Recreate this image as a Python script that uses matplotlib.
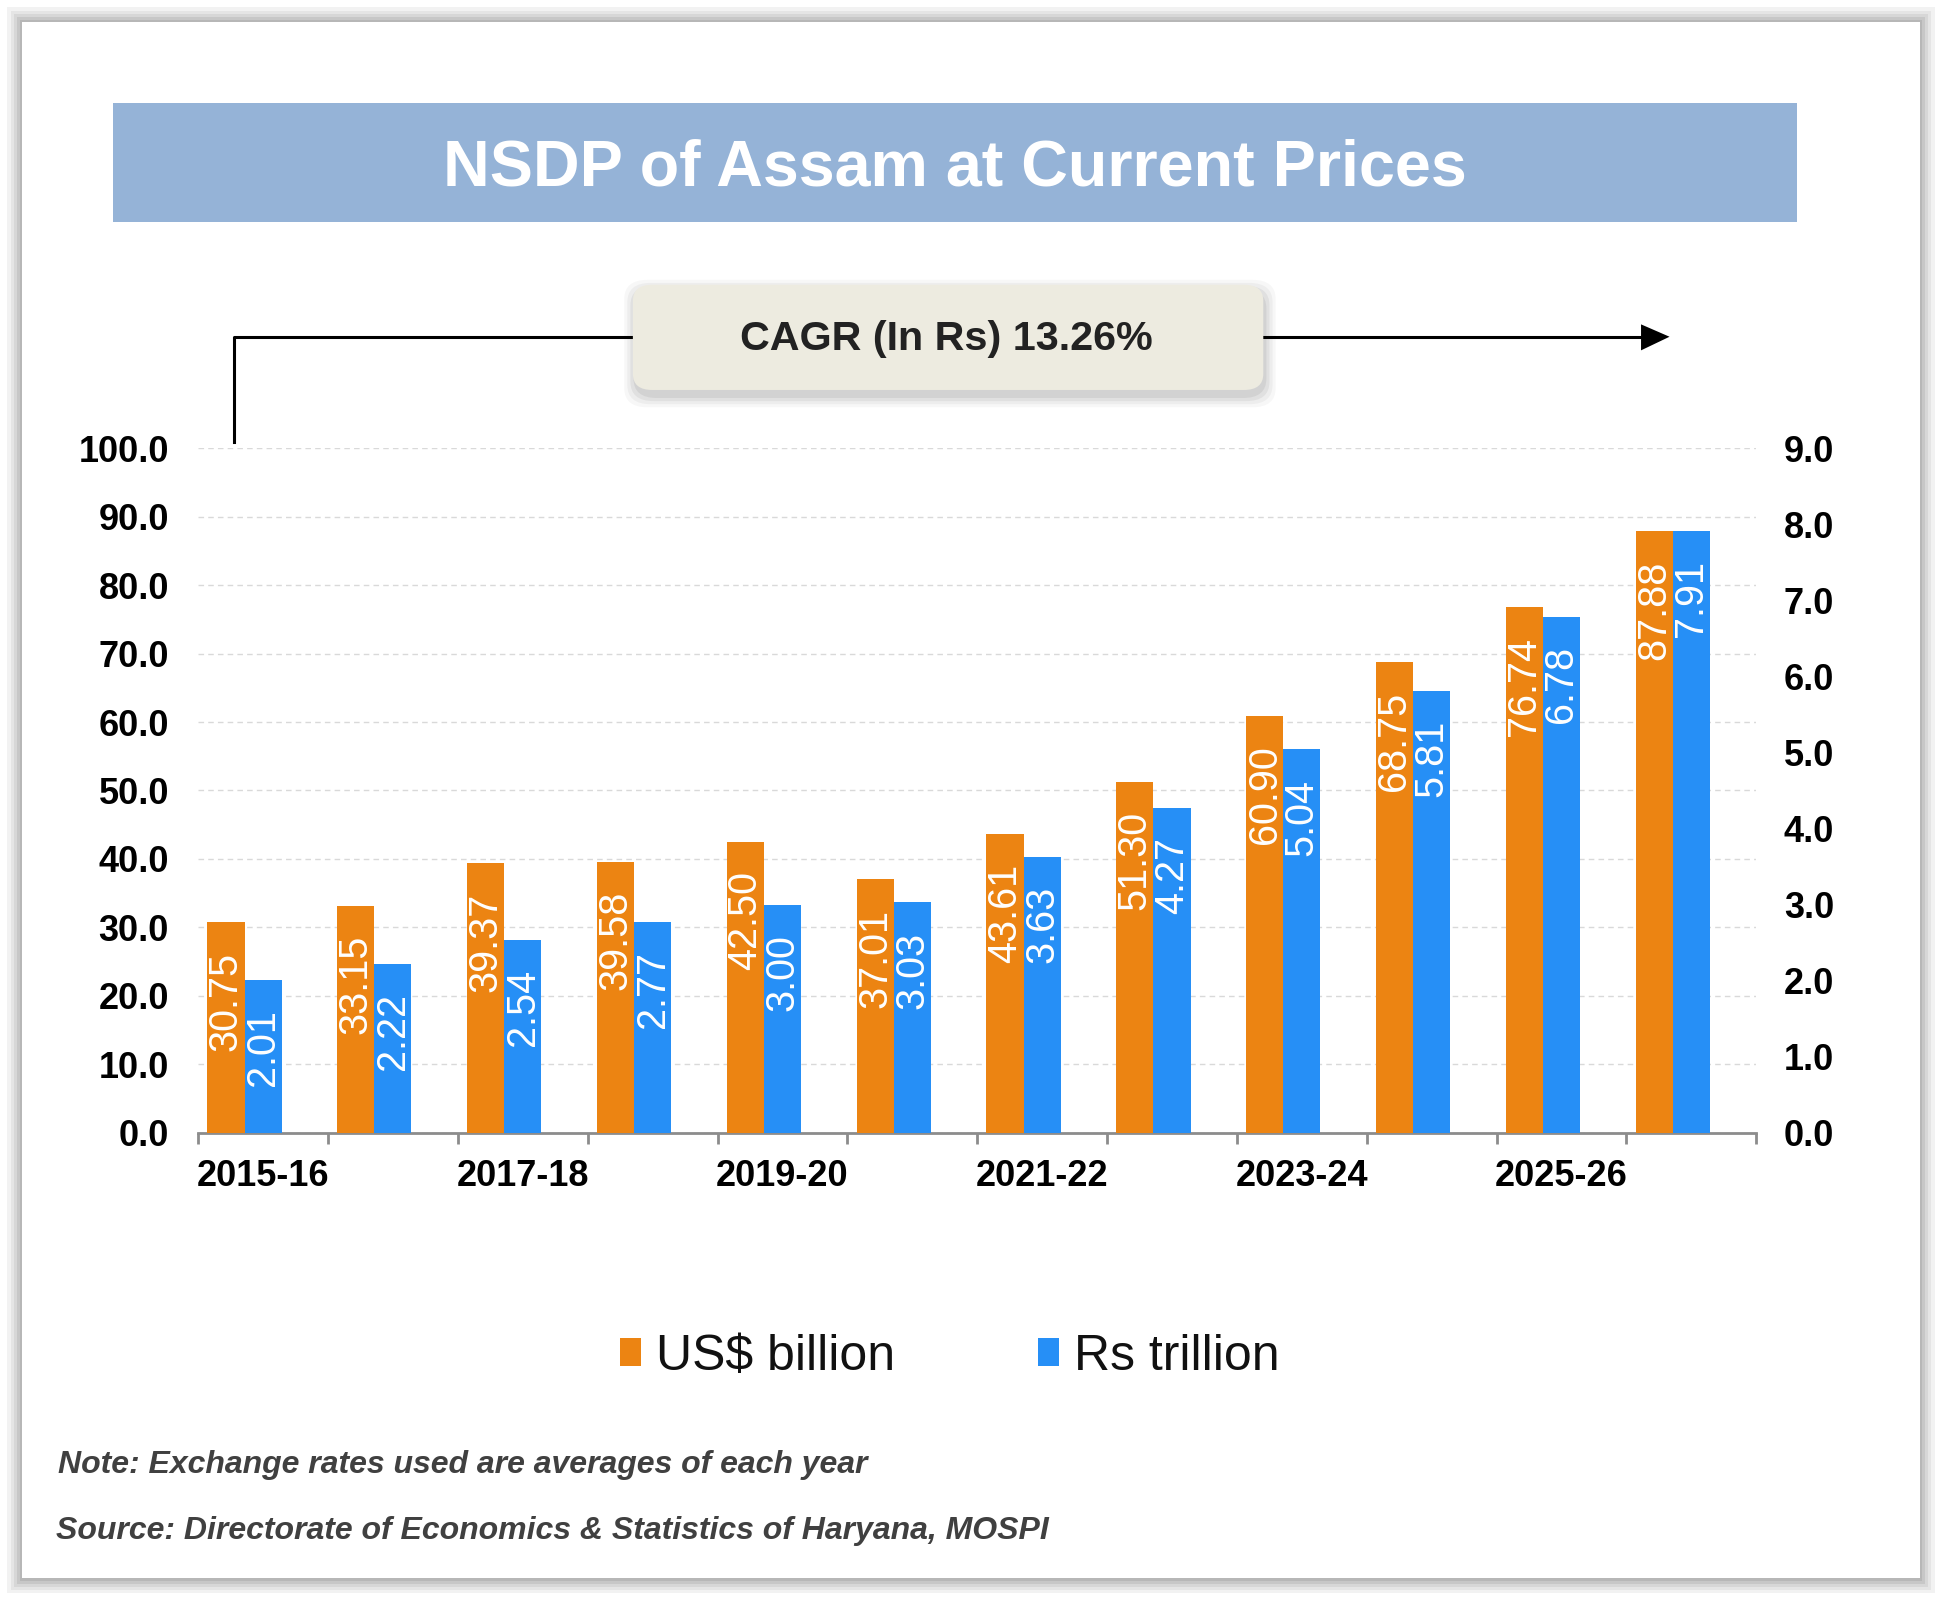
import matplotlib
matplotlib.use("Agg")
import matplotlib.pyplot as plt
from matplotlib.patches import Rectangle, FancyBboxPatch, Polygon
from matplotlib.lines import Line2D
from matplotlib.ticker import FormatStrFormatter, FixedLocator

plt.rcParams['font.family'] = ['Liberation Sans', 'DejaVu Sans']

# ---------------- data ----------------
years = ['2015-16', '2016-17', '2017-18', '2018-19', '2019-20', '2020-21',
         '2021-22', '2022-23', '2023-24', '2024-25', '2025-26', '2026-27']
usd_billion = [30.75, 33.15, 39.37, 39.58, 42.50, 37.01, 43.61, 51.30, 60.90, 68.75, 76.74, 87.88]
rs_trillion = [2.01, 2.22, 2.54, 2.77, 3.00, 3.03, 3.63, 4.27, 5.04, 5.81, 6.78, 7.91]
left_ticks = [0, 10, 20, 30, 40, 50, 60, 70, 80, 90, 100]
right_ticks = [0, 1, 2, 3, 4, 5, 6, 7, 8, 9]
title = "NSDP of Assam at Current Prices"
cagr_text = "CAGR (In Rs) 13.26%"
note_text = "Note: Exchange rates used are averages of each year"
source_text = "Source: Directorate of Economics & Statistics of Haryana, MOSPI"

ORANGE = '#EC8412'
BLUE = '#268FF6'

# reference layout coordinates (measured on a 1568x1294 view)
W, H = 1568.0, 1294.0
def fx(x): return x / W
def fy(y): return 1 - y / H

fig = plt.figure(figsize=(19.42, 16.02), dpi=100, facecolor='white')

# card shadow + card
for i, a in enumerate([0.05, 0.05, 0.06, 0.07, 0.08]):
    p = 12 - i * 2.5
    fig.patches.append(Rectangle((fx(18 - p), fy(1275 + p)), fx(1532 + 2 * p), (1257 + 2 * p) / H,
                                 transform=fig.transFigure, facecolor='#000000', alpha=a,
                                 edgecolor='none', zorder=0))
fig.patches.append(Rectangle((fx(18), fy(1275)), fx(1532), 1257 / H, transform=fig.transFigure,
                             facecolor='white', edgecolor='none', zorder=1))

# title box
fig.patches.append(Rectangle((fx(91), fy(179)), fx(1360), 96 / H, transform=fig.transFigure,
                             facecolor='#95B3D7', edgecolor='none', zorder=2))
fig.text(fx(771), fy(136), title, ha='center', va='center', color='white',
         fontsize=46.5, fontweight='bold', zorder=3)

# CAGR arrow
lw = 2.2
fig.lines.append(Line2D([fx(189), fx(189), fx(512)], [fy(357), fy(272), fy(272)],
                        transform=fig.transFigure, color='black', lw=lw, zorder=2))
fig.lines.append(Line2D([fx(1018), fx(1327)], [fy(272), fy(272)],
                        transform=fig.transFigure, color='black', lw=lw, zorder=2))
fig.patches.append(Polygon([[fx(1325), fy(262)], [fx(1348), fy(272)], [fx(1325), fy(283)]],
                           closed=True, transform=fig.transFigure, facecolor='black',
                           edgecolor='none', zorder=2))

# CAGR box with soft shadow
for i, a in enumerate([0.03, 0.04, 0.05, 0.06]):
    p = 10 - i * 2.5
    fig.patches.append(FancyBboxPatch((fx(512 - p + 2), fy(315 + p + 4)), fx(506 + 2 * p), (83 + 2 * p) / H,
                                      boxstyle="round,pad=0,rounding_size=0.012",
                                      transform=fig.transFigure, facecolor='black', alpha=a,
                                      edgecolor='none', zorder=3))
fig.patches.append(FancyBboxPatch((fx(511), fy(315)), fx(509), 85 / H,
                                  boxstyle="round,pad=0,rounding_size=0.010",
                                  transform=fig.transFigure, facecolor='#EDEBE0',
                                  edgecolor='none', zorder=4))
fig.text(fx(764), fy(274), cagr_text, ha='center', va='center', color='#222222',
         fontsize=29.7, fontweight='bold', zorder=5)

# ---------------- axes ----------------
ax = fig.add_axes([fx(160), fy(915), (1418 - 160) / W, (915 - 362) / H])
ax.set_zorder(5)
ax.patch.set_alpha(0)
ax2 = ax.twinx()

n = len(years)
xs = list(range(n))
w = 0.286
ax.bar([x - w for x in xs], usd_billion, width=w, align='center', color=ORANGE, label='US$ billion', zorder=3)
ax2.bar(xs, rs_trillion, width=w, align='center', color=BLUE, label='Rs trillion', zorder=3)

ax.set_xlim(-0.5, n - 0.5)
ax.set_ylim(0, 100)
ax2.set_ylim(0, 9)
ax.set_yticks(left_ticks)
ax2.set_yticks(right_ticks)
ax.yaxis.set_major_formatter(FormatStrFormatter('%.1f'))
ax2.yaxis.set_major_formatter(FormatStrFormatter('%.1f'))

ax.grid(axis='y', color='#D9D9D9', linestyle=(0, (4, 3)), linewidth=1.0, zorder=0)
ax.set_axisbelow(True)

for a in (ax, ax2):
    for s in ('top', 'left', 'right'):
        a.spines[s].set_visible(False)
    a.spines['bottom'].set_color('#8C8C8C')
    a.spines['bottom'].set_linewidth(2.0)
ax2.spines['bottom'].set_visible(False)

ax.set_xticks(xs[::2])
ax.set_xticklabels(years[::2])
ax.xaxis.set_minor_locator(FixedLocator([x - 0.5 for x in range(n + 1)]))
ax.tick_params(axis='x', which='major', length=0, pad=19, labelsize=26)
ax.tick_params(axis='x', which='minor', length=8, width=2.0, color='#8C8C8C', direction='out')
ax.tick_params(axis='y', length=0, pad=21, labelsize=26)
ax2.tick_params(axis='y', length=0, pad=20, labelsize=26)
for lab in ax.get_xticklabels() + ax.get_yticklabels() + ax2.get_yticklabels():
    lab.set_fontweight('bold')
    lab.set_color('black')

# bar labels
for x, v in zip(xs, usd_billion):
    ax.annotate(f"{v:.2f}", xy=(x - w, v), xytext=(0, -21), textcoords='offset points',
                rotation=90, ha='center', va='top', color='white', fontsize=28.5, zorder=6)
for x, v in zip(xs, rs_trillion):
    ax2.annotate(f"{v:.2f}", xy=(x, v), xytext=(0, -21), textcoords='offset points',
                 rotation=90, ha='center', va='top', color='white', fontsize=28.5, zorder=6)

# legend
h1, l1 = ax.get_legend_handles_labels()
h2, l2 = ax2.get_legend_handles_labels()
leg = fig.legend(h1 + h2, l1 + l2, loc='center', bbox_to_anchor=(fx(767), fy(1096)),
                 ncol=2, frameon=False, fontsize=36, handlelength=0.42, handleheight=0.5,
                 handletextpad=0.3, columnspacing=2.85)
for t in leg.get_texts():
    t.set_color('#111111')

# notes
fig.text(fx(47), fy(1183), note_text, ha='left', va='center', color='#404040',
         fontsize=23, fontweight='bold', fontstyle='italic')
fig.text(fx(45), fy(1237), source_text, ha='left', va='center', color='#404040',
         fontsize=23, fontweight='bold', fontstyle='italic')

fig.savefig('out.png', dpi=100, facecolor='white')
